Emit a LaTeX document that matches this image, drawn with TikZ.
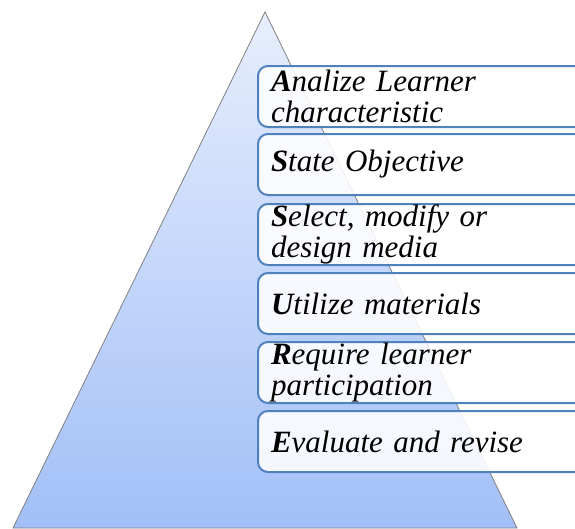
\documentclass[tikz,border=0pt]{standalone}
\usepackage{fontspec}
\setmainfont{Liberation Serif}
\usepackage{xcolor}

\tikzset{
  stepbox/.style={draw={rgb, 255:red, 79; green, 129; blue, 189}, line width=2pt,
    rounded corners=10pt, fill=white, fill opacity=0.88, text opacity=1,
    anchor=north west, minimum height=61pt, text width=320pt, inner xsep=13pt,
    inner ysep=0pt, align=left, font=\fontsize{31}{31.5}\selectfont\itshape},
}

\begin{document}
\begin{tikzpicture}[x=1pt,y=1pt,yscale=-1,xscale=1]
    \clip (0,0) rectangle (575,528);

    %Shape: Triangle
    \draw [draw={rgb, 255:red, 128; green, 128; blue, 128}, line width=0.8pt,
      top color={rgb, 255:red, 231; green, 238; blue, 253},
      bottom color={rgb, 255:red, 162; green, 191; blue, 247}]
      (265,12) -- (517,528) -- (13,528) -- cycle ;

    % Text Node
    \node [stepbox] (analize) at (257,65) {\textbf{A}nalize Learner\\characteristic};
    % Text Node
    \node [stepbox] (state) at (257,133) {\textbf{S}tate Objective};
    % Text Node
    \node [stepbox] (select) at (257,203) {\textbf{S}elect, modify or\\design media};
    % Text Node
    \node [stepbox] (utilize) at (257,272) {\textbf{U}tilize materials};
    % Text Node
    \node [stepbox] (require) at (257,341) {\textbf{R}equire learner\\participation};
    % Text Node
    \node [stepbox] (evaluate) at (257,410) {\textbf{E}valuate and revise};

\end{tikzpicture}
\end{document}
